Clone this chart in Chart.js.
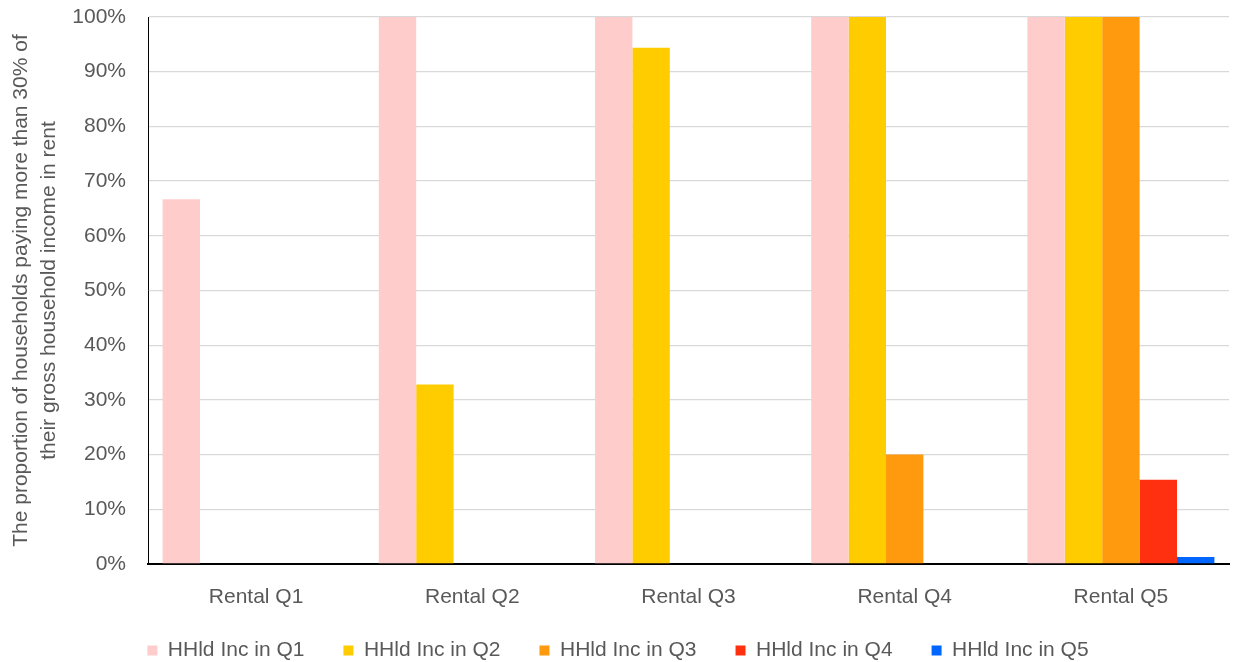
<!DOCTYPE html>
<html>
<head>
<meta charset="utf-8">
<script src="https://cdn.jsdelivr.net/npm/chart.js@4.4.0/dist/chart.umd.min.js"></script>
<style>
  html, body { margin: 0; padding: 0; background: #fff; }
  #wrap { width: 1237px; height: 662px; }
</style>
</head>
<body>
<div id="wrap"><canvas id="rentChart"></canvas></div>
<script>
const categories = ['Rental Q1', 'Rental Q2', 'Rental Q3', 'Rental Q4', 'Rental Q5'];
const seriesNames = ['HHld Inc in Q1', 'HHld Inc in Q2', 'HHld Inc in Q3', 'HHld Inc in Q4', 'HHld Inc in Q5'];
const incQ1 = [66.7, 100, 100, 100, 100];
const incQ2 = [0, 32.8, 94.4, 100, 100];
const incQ3 = [0, 0, 0, 20, 100];
const incQ4 = [0, 0, 0, 0, 15.4];
const incQ5 = [0, 0, 0, 0, 1.3];
const seriesColors = ['#FFCCCC', '#FFCC00', '#FF990D', '#FF3010', '#0066FF'];
const yTitle = ['The proportion of households paying more than 30% of', 'their gross household income in rent'];

const fontFamily = '"Liberation Sans", Arial, sans-serif';
const textColor = '#595959';

const allSeries = [incQ1, incQ2, incQ3, incQ4, incQ5];

const ctx = document.getElementById('rentChart').getContext('2d');
new Chart(ctx, {
    type: 'bar',
    data: {
        labels: categories,
        datasets: allSeries.map((vals, i) => ({
            label: seriesNames[i],
            data: vals,
            backgroundColor: seriesColors[i],
            borderWidth: 0,
            categoryPercentage: 0.865,
            barPercentage: 1.0
        }))
    },
    options: {
        responsive: true,
        maintainAspectRatio: false,
        animation: false,
        layout: { padding: { left: 7, right: 8, top: 17, bottom: -9 } },
        plugins: {
            tooltip: { enabled: false },
            legend: {
                position: 'bottom',
                labels: {
                    font: { family: fontFamily, size: 21 },
                    color: textColor,
                    boxWidth: 10,
                    boxHeight: 10,
                    padding: 39
                }
            }
        },
        scales: {
            x: {
                afterFit: (scale) => {
                    scale.height = 37;
                    // let the tick labels spill below the squeezed axis box
                    scale._computeLabelArea = () => undefined;
                },
                grid: { display: false, drawTicks: false },
                border: { color: '#000', width: 2 },
                ticks: {
                    font: { family: fontFamily, size: 21 },
                    color: textColor,
                    padding: 21
                }
            },
            y: {
                min: 0,
                max: 100,
                afterFit: (scale) => {
                    scale.width = 141;
                    scale.paddingTop = 0;
                },
                grid: { color: '#D9D9D9', lineWidth: 1.3, drawTicks: false },
                border: { color: '#000', width: 1 },
                ticks: {
                    stepSize: 10,
                    font: { family: fontFamily, size: 21 },
                    color: textColor,
                    padding: 22,
                    callback: (v) => v + '%'
                },
                title: {
                    display: true,
                    text: yTitle,
                    font: { family: fontFamily, size: 21, lineHeight: 1.33 },
                    color: textColor,
                    padding: { top: 0, bottom: 0 }
                }
            }
        }
    }
});
</script>
</body>
</html>
